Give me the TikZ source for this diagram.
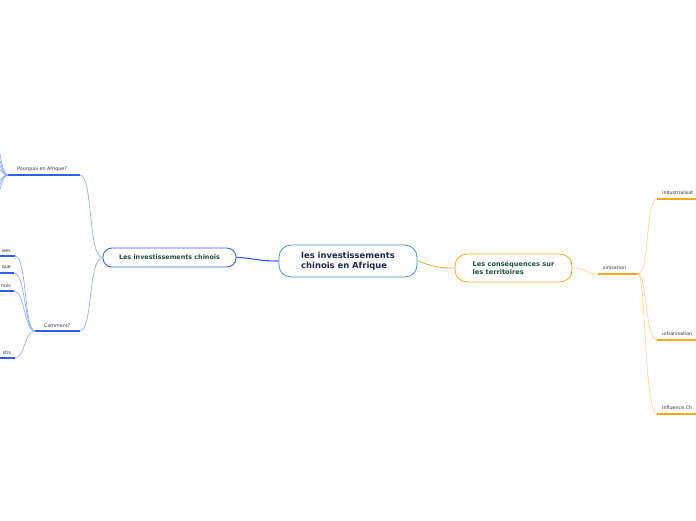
\documentclass[tikz,border=0pt]{standalone}
\usepackage{fontspec}
\setmainfont{DejaVu Sans}
\definecolor{cblue}{HTML}{2F5FE8}
\definecolor{lblue}{HTML}{8AA6FF}
\definecolor{cborder}{HTML}{4A90D0}
\definecolor{corange}{HTML}{F5A623}
\definecolor{lorange}{HTML}{FFCF88}
\definecolor{navy}{HTML}{1B2A4E}
\definecolor{dgreen}{HTML}{1E4D3C}
\definecolor{lgray}{HTML}{333333}
\begin{document}
\begin{tikzpicture}[x=1pt,y=-1pt,
  central/.style={draw=cborder,line width=0.8pt,rounded corners=12pt,fill=white,minimum width=138pt,minimum height=32pt,align=left,text=navy,font=\fontsize{8.4}{10}\selectfont\bfseries,inner sep=0pt},
  mainL/.style={draw=cblue,line width=0.8pt,rounded corners=9pt,fill=white,minimum width=133pt,minimum height=19pt,text=dgreen,font=\fontsize{6.4}{8}\selectfont\bfseries,inner sep=0pt},
  mainR/.style={draw=corange,line width=0.8pt,rounded corners=12pt,fill=white,minimum width=117pt,minimum height=28pt,align=left,text=dgreen,font=\fontsize{6.6}{8}\selectfont\bfseries,inner sep=0pt},
  lab/.style={text=lgray,font=\fontsize{4.8}{6}\selectfont,inner sep=0pt},
  ulB/.style={draw=cblue,line width=1.2pt},
  ulO/.style={draw=corange,line width=1.2pt},
  conB/.style={draw=lblue,line width=0.6pt},
  conO/.style={draw=lorange,line width=0.6pt}]
\useasboundingbox (0,0) rectangle (696,520);

% main nodes
\node[central] (c) at (348,261) {les investissements\\chinois en Afrique};
\node[mainL] (L) at (169.5,257.5) {Les investissements chinois};
\node[mainR] (R) at (513.5,268) {Les conséquences sur\\les territoires};

% main connectors
\draw[cblue,line width=1.1pt] (c.west) .. controls (255,261) and (255,258) .. (L.east);
\draw[corange,line width=0.8pt] (c.east) .. controls (435,267) and (437,268) .. (R.west);

% left subtopics
\coordinate (pqR) at (80,175); \coordinate (pqL) at (8,175);
\node[lab,anchor=west] (pq) at (17,169.5) {Pourquoi en Afrique?};
\draw[ulB] (pqL) -- (pqR);
\coordinate (cmR) at (80,331); \coordinate (cmL) at (35,331);
\node[lab,anchor=west] (cm) at (44,325.5) {Comment?};
\draw[ulB] (cmL) -- (cmR);
\draw[conB] (L.west) .. controls (88,258) and (93,175) .. (pqR);
\draw[conB] (L.west) .. controls (88,258) and (93,331) .. (cmR);

% Pourquoi fan (children off page)
\foreach \yy [count=\i] in {118,136,150,160,190,200,214} {
  \coordinate (pf\i) at (-14,\yy);
  \draw[conB] (pqL) .. controls (-1,175) and (-1,\yy) .. (pf\i);
}

% Comment children
\coordinate (k1) at (15,256); \coordinate (k1L) at (0,256);
\coordinate (k2) at (14,273); \coordinate (k2L) at (0,273);
\coordinate (k3) at (14,291); \coordinate (k3L) at (0,291);
\coordinate (k4) at (15,358); \coordinate (k4L) at (0,358);
\node[lab,anchor=east] (t1) at (11,250.5) {ises};
\node[lab,anchor=east] (t2) at (11,268) {que};
\node[lab,anchor=east] (t3) at (11,286) {nois};
\node[lab,anchor=east] (t4) at (11,353) {stis};
\draw[ulB] (k1L) -- (k1);
\draw[ulB] (k2L) -- (k2);
\draw[ulB] (k3L) -- (k3);
\draw[ulB] (k4L) -- (k4);
\draw[conB] (cmL) .. controls (24,331) and (27,256) .. (k1);
\draw[conB] (cmL) .. controls (24,331) and (26,273) .. (k2);
\draw[conB] (cmL) .. controls (24,331) and (25,291) .. (k3);
\draw[conB] (cmL) .. controls (24,331) and (25,358) .. (k4);

% right side
\coordinate (snL) at (598,274); \coordinate (snR) at (638,274);
\node[lab,anchor=west] (sn) at (603,268) {sinisation};
\draw[ulO] (snL) -- (snR);
\draw[conO] (R.east) .. controls (588,268) and (584,274) .. (snL);

\coordinate (inL) at (657,199); \coordinate (inR) at (697,199);
\coordinate (urL) at (657,340); \coordinate (urR) at (697,340);
\coordinate (ifL) at (657,414); \coordinate (ifR) at (697,414);
\node[lab,anchor=west] (in) at (662,193) {industrialisat};
\node[lab,anchor=west] (ur) at (662,333.5) {urbanisation};
\node[lab,anchor=west] (if) at (662,408) {Influence Ch};
\draw[ulO] (inL) -- (inR);
\draw[ulO] (urL) -- (urR);
\draw[ulO] (ifL) -- (ifR);
\draw[conO] (snR) .. controls (650,274) and (645,199) .. (inL);
\draw[conO] (snR) .. controls (647,274) and (645,340) .. (urL);
\draw[conO] (snR) .. controls (646,274) and (644,414) .. (ifL);
\end{tikzpicture}
\end{document}
